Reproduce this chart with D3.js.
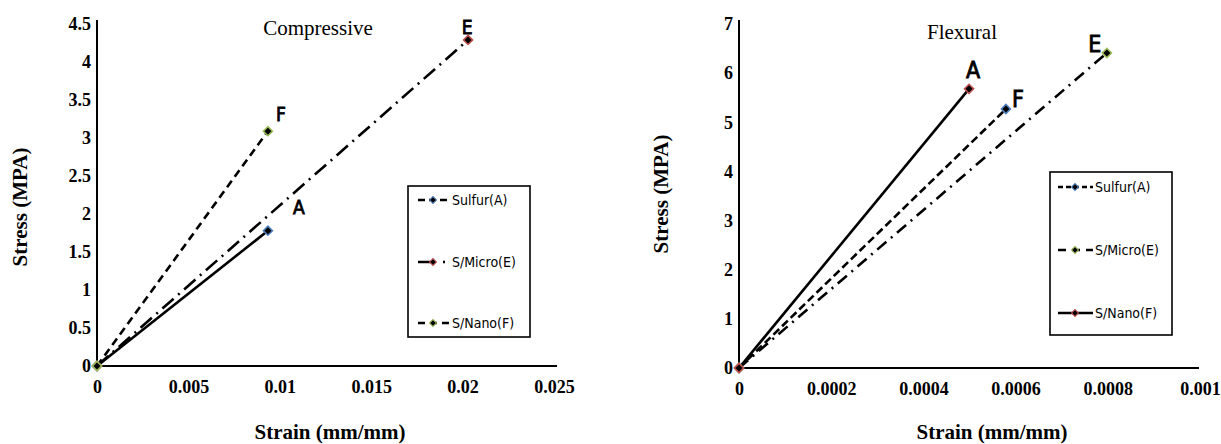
<!DOCTYPE html>
<html>
<head>
<meta charset="utf-8">
<script src="https://cdn.jsdelivr.net/npm/d3@7"></script>
<style>
  html, body { margin: 0; padding: 0; background: #fff; }
  svg { display: block; }
  .title { font-family: "Liberation Serif", "Times New Roman", serif; font-weight: bold; font-size: 21px; fill: #000; }
  .chartname { font-family: "Liberation Serif", "Times New Roman", serif; font-size: 21px; fill: #000; }
  .ptlabel { font-family: "DejaVu Sans Condensed", sans-serif; font-weight: normal; fill: #000; stroke: #000; stroke-width: 0.8px; }
  .legtext { font-family: "DejaVu Sans Condensed", sans-serif; font-size: 14px; fill: #000; }
</style>
</head>
<body>
<svg id="chart" width="1221" height="444"></svg>
<script>
// ---------- DATA ----------
// Compressive (left chart)
const compSeriesNames = ["Sulfur(A)", "S/Micro(E)", "S/Nano(F)"];
const compSulfurStrain = [0, 0.00935];
const compSulfurStress = [0, 1.78];
const compMicroStrain = [0, 0.0203];
const compMicroStress = [0, 4.29];
const compNanoStrain = [0, 0.00935];
const compNanoStress = [0, 3.09];
const compPointLabels = ["A", "E", "F"];
const compXTicks = [0, 0.005, 0.01, 0.015, 0.02, 0.025];
const compXTickLabels = ["0", "0.005", "0.01", "0.015", "0.02", "0.025"];
const compYTicks = [0, 0.5, 1, 1.5, 2, 2.5, 3, 3.5, 4, 4.5];
const compYTickLabels = ["0", "0.5", "1", "1.5", "2", "2.5", "3", "3.5", "4", "4.5"];

// Flexural (right chart)
const flexSeriesNames = ["Sulfur(A)", "S/Micro(E)", "S/Nano(F)"];
const flexSulfurStrain = [0, 0.000579];
const flexSulfurStress = [0, 5.27];
const flexMicroStrain = [0, 0.000798];
const flexMicroStress = [0, 6.41];
const flexNanoStrain = [0, 0.000499];
const flexNanoStress = [0, 5.68];
const flexPointLabels = ["F", "E", "A"];
const flexXTicks = [0, 0.0002, 0.0004, 0.0006, 0.0008, 0.001];
const flexXTickLabels = ["0", "0.0002", "0.0004", "0.0006", "0.0008", "0.001"];
const flexYTicks = [0, 1, 2, 3, 4, 5, 6, 7];
const flexYTickLabels = ["0", "1", "2", "3", "4", "5", "6", "7"];

// ---------- STYLE ----------
const BLUE = "#4F81BD", RED = "#C0504D", GREEN = "#9BBB59";
const svg = d3.select("#chart");

function zip(xs, ys) { return xs.map((x, i) => ({x, y: ys[i]})); }
const diamond = d3.symbol(d3.symbolSquare, 42);
const diamondSmall = d3.symbol(d3.symbolSquare, 24);

function styleTicks(sel) {
  sel.selectAll(".tick text")
    .style("font-family", '"Liberation Serif", "Times New Roman", serif')
    .style("font-weight", "bold")
    .style("font-size", "18px")
    .style("fill", "#000");
}

function drawChart(cfg) {
  const g = svg.append("g");
  const x = d3.scaleLinear().domain(cfg.xDomain).range(cfg.xRange);
  const y = d3.scaleLinear().domain(cfg.yDomain).range(cfg.yRange);

  // axes (no tick marks)
  const xAxis = d3.axisBottom(x).tickValues(cfg.xTicks).tickSize(0).tickPadding(14)
    .tickFormat((d, i) => cfg.xTickLabels[i]);
  const yAxis = d3.axisLeft(y).tickValues(cfg.yTicks).tickSize(0).tickPadding(6)
    .tickFormat((d, i) => cfg.yTickLabels[i]);
  const gx = g.append("g").attr("transform", `translate(0,${y(0)})`).call(xAxis);
  const gy = g.append("g").attr("transform", `translate(${x(0)},0)`).call(yAxis);
  gx.select(".domain").remove();
  gy.select(".domain").remove();
  styleTicks(gx); styleTicks(gy);

  g.append("line").attr("x1", x(0)).attr("x2", cfg.xAxisEnd)
    .attr("y1", y(0)).attr("y2", y(0)).attr("stroke", "#000").attr("stroke-width", 2);
  g.append("line").attr("x1", x(0)).attr("x2", x(0))
    .attr("y1", y(0)).attr("y2", cfg.yAxisTop).attr("stroke", "#000").attr("stroke-width", 2);

  // lines
  const line = d3.line().x(d => x(d.x)).y(d => y(d.y));
  cfg.series.forEach(s => {
    g.append("path").datum(s.pts).attr("d", line)
      .attr("fill", "none").attr("stroke", "#000").attr("stroke-width", 2.6)
      .attr("stroke-dasharray", s.dash);
  });
  cfg.series.forEach(s => {
    g.selectAll(null).data(s.pts).join("path")
      .attr("d", diamond)
      .attr("transform", d => `translate(${x(d.x)},${y(d.y)}) rotate(45)`)
      .attr("fill", "#000").attr("stroke", s.color).attr("stroke-width", 1.5);
    const last = s.pts[s.pts.length - 1];
    g.append("text").attr("class", "ptlabel")
      .attr("x", x(last.x) + s.lab[0]).attr("y", y(last.y) + s.lab[1])
      .attr("text-anchor", "middle")
      .style("font-size", cfg.labelSize + "px")
      .text(s.label);
  });

  // titles
  g.append("text").attr("class", "chartname").attr("x", cfg.name[1]).attr("y", cfg.name[2])
    .attr("text-anchor", "middle").text(cfg.name[0]);
  g.append("text").attr("class", "title").attr("x", cfg.xTitle[0]).attr("y", cfg.xTitle[1])
    .attr("text-anchor", "middle").attr("dy", "0.35em").text("Strain (mm/mm)");
  g.append("text").attr("class", "title")
    .attr("transform", `translate(${cfg.yTitle[0]},${cfg.yTitle[1]}) rotate(-90)`)
    .attr("text-anchor", "middle").attr("dy", "0.35em").text("Stress (MPA)");

  // legend
  const L = cfg.legend;
  g.append("rect").attr("x", L.x).attr("y", L.y).attr("width", L.w).attr("height", L.h)
    .attr("fill", "#fff").attr("stroke", "#000").attr("stroke-width", 1.6);
  L.items.forEach((it, i) => {
    const yy = L.rows[i];
    g.append("line").attr("x1", L.lx1).attr("x2", L.lx2).attr("y1", yy).attr("y2", yy)
      .attr("stroke", "#000").attr("stroke-width", 2.6).attr("stroke-dasharray", it.dash);
    g.append("path").attr("d", diamondSmall)
      .attr("transform", `translate(${L.mx},${yy}) rotate(45)`)
      .attr("fill", "#000").attr("stroke", it.color).attr("stroke-width", 1);
    g.append("text").attr("class", "legtext").attr("x", L.tx).attr("y", yy)
      .attr("dy", "0.35em").text(it.name);
  });
}

// Left: Compressive
drawChart({
  xDomain: [0, 0.025], xRange: [97, 554], yDomain: [0, 4.5], yRange: [366, 24],
  xTicks: compXTicks, xTickLabels: compXTickLabels, yTicks: compYTicks, yTickLabels: compYTickLabels,
  xAxisEnd: 557, yAxisTop: 20, labelSize: 19,
  series: [
    {pts: zip(compSulfurStrain, compSulfurStress), dash: null, color: BLUE, label: compPointLabels[0], lab: [31, -17]},
    {pts: zip(compMicroStrain, compMicroStress), dash: "15,6,2,6", color: RED, label: compPointLabels[1], lab: [-1, -6]},
    {pts: zip(compNanoStrain, compNanoStress), dash: "8,5", color: GREEN, label: compPointLabels[2], lab: [13, -10]}
  ],
  name: ["Compressive", 318, 35],
  xTitle: [330, 432], yTitle: [20, 207],
  legend: {x: 408, y: 186, w: 122, h: 151, rows: [200, 262, 323], lx1: 418, lx2: 450, mx: 433, tx: 452,
    items: [
      {name: compSeriesNames[0], dash: "7,4", color: BLUE},
      {name: compSeriesNames[1], dash: "15,10,2,10", color: RED},
      {name: compSeriesNames[2], dash: "7,5", color: GREEN}
    ]}
});

// Right: Flexural
drawChart({
  xDomain: [0, 0.001], xRange: [739, 1200], yDomain: [0, 7], yRange: [368, 24],
  xTicks: flexXTicks, xTickLabels: flexXTickLabels, yTicks: flexYTicks, yTickLabels: flexYTickLabels,
  xAxisEnd: 1199, yAxisTop: 20, labelSize: 23,
  series: [
    {pts: zip(flexSulfurStrain, flexSulfurStress), dash: "8,4", color: BLUE, label: flexPointLabels[0], lab: [12, -2]},
    {pts: zip(flexMicroStrain, flexMicroStress), dash: "12,6,2,6", color: GREEN, label: flexPointLabels[1], lab: [-12, -1]},
    {pts: zip(flexNanoStrain, flexNanoStress), dash: null, color: RED, label: flexPointLabels[2], lab: [4, -11]}
  ],
  name: ["Flexural", 962, 39],
  xTitle: [992, 432], yTitle: [661, 194],
  legend: {x: 1050, y: 172, w: 122, h: 163, rows: [187, 250, 313], lx1: 1058, lx2: 1093, mx: 1075, tx: 1095,
    items: [
      {name: flexSeriesNames[0], dash: "5,3", color: BLUE},
      {name: flexSeriesNames[1], dash: "8,6", color: GREEN},
      {name: flexSeriesNames[2], dash: null, color: RED}
    ]}
});
</script>
</body>
</html>
